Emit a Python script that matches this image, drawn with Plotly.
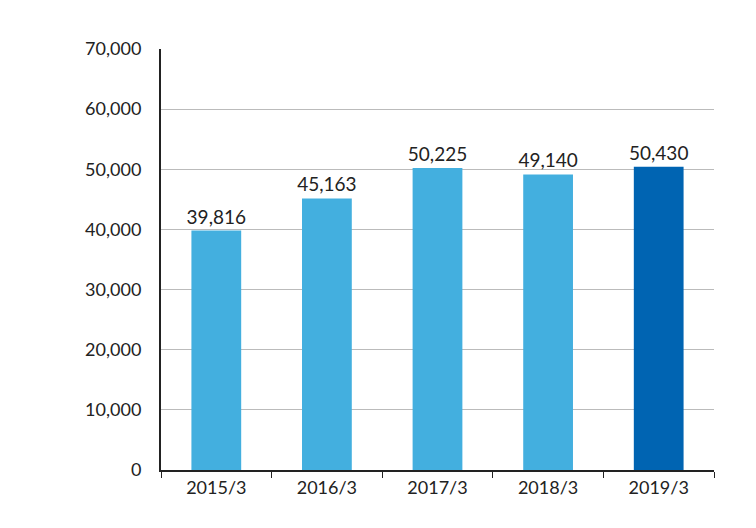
import plotly.graph_objects as go

years = ["2015/3", "2016/3", "2017/3", "2018/3", "2019/3"]
values = [39816, 45163, 50225, 49140, 50430]
colors = ["#43afdf", "#43afdf", "#43afdf", "#43afdf", "#0064b2"]

fig = go.Figure()
fig.add_trace(go.Bar(
    x=years, y=values,
    marker=dict(color=colors, line=dict(width=0)),
    text=[f"{v:,}" for v in values],
    textposition="outside",
    constraintext="none",
    textfont=dict(size=19, color="#222222"),
    cliponaxis=False,
))
fig.update_layout(
    width=756, height=528,
    margin=dict(l=153, r=50, t=41, b=66),
    plot_bgcolor="white", paper_bgcolor="white",
    font=dict(family="Lato, Noto Sans, sans-serif", size=18, color="#222222"),
    bargap=0.55,
    showlegend=False,
    xaxis=dict(
        showline=True, linecolor="#222222", linewidth=2,
        ticks="outside", tickson="boundaries", ticklen=6, tickcolor="#222222",
        showgrid=False,
    ),
    yaxis=dict(
        range=[0, 70000], dtick=10000, tickformat=",",
        showline=True, linecolor="#222222", linewidth=2,
        gridcolor="#bbbbbb", gridwidth=1,
        ticks="", ticklabelstandoff=14, zeroline=False,
    ),
)
fig.write_html("out.html")
